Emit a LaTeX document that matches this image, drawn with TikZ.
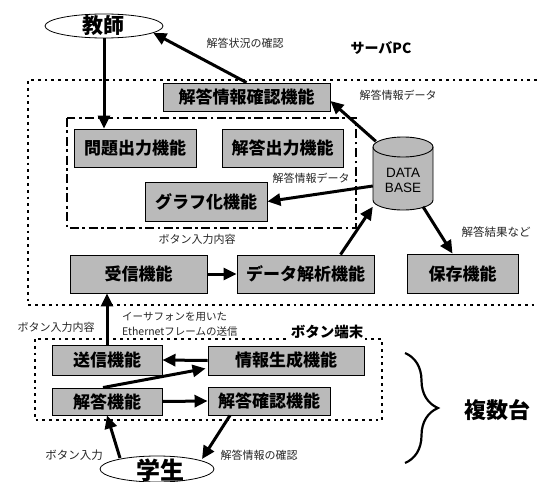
\documentclass[tikz,border=0pt]{standalone}
\usepackage{fontspec}
\setmainfont{Liberation Sans}
\newfontfamily\jp{Noto Sans CJK JP}
\usetikzlibrary{arrows.meta,decorations.pathreplacing,shapes.geometric}
\begin{document}
\begin{tikzpicture}[x=1pt,y=-1pt,
  fbox/.style={draw=black,line width=0.9pt,fill=black!27,inner sep=0pt,
    font=\jp\bfseries\fontsize{17pt}{19pt}\selectfont},
  lbl/.style={font=\jp\fontsize{11pt}{13pt}\selectfont,inner sep=0pt,text=black!85},
  arr/.style={line width=3pt,-{Triangle[length=13pt,width=12pt]}},
  dotline/.style={line width=2.8pt,dash pattern=on 2.8pt off 4pt},
  dashdot/.style={line width=2.8pt,dash pattern=on 9pt off 3.5pt on 2.8pt off 3.5pt},
  oval/.style={draw=black,line width=0.8pt,ellipse,inner sep=0pt}]
\useasboundingbox (0,0) rectangle (537,481);

% server PC frame
\draw[dotline] (537,80) -- (28,80) -- (28,305) -- (537,305);
\draw[dashdot] (67,118) rectangle (356,228);

% teacher
\node[oval,minimum width=118pt,minimum height=24pt] (kyoushi) at (104,26) {};
\node[font=\jp\bfseries\fontsize{21pt}{23pt}\selectfont,inner sep=0pt] (kyoushitxt) at (103,26) {教師};

\node[lbl] (lblkyo) at (245,43) {解答状況の確認};
\node[font=\jp\bfseries\fontsize{14pt}{16pt}\selectfont,inner sep=0pt] (server) at (381,48) {サーバPC};

\node[fbox,minimum width=167pt,minimum height=28pt] (kakunin) at (246.5,97) {解答情報確認機能};
\node[lbl] (lbldata1) at (398,95) {解答情報データ};

\node[fbox,minimum width=122pt,minimum height=38pt] (mondai) at (135,148) {問題出力機能};
\node[fbox,minimum width=121pt,minimum height=38pt] (kshutsu) at (282.5,148) {解答出力機能};
\node[fbox,minimum width=122pt,minimum height=39pt] (graph) at (206,201.5) {グラフ化機能};
\node[lbl] (lbldata2) at (311,178) {解答情報データ};
\node[lbl] (lblbtn1) at (197,239) {ボタン入力内容};

% database
\node[minimum width=60pt,minimum height=73pt,inner sep=0pt] (db) at (403,173) {};
\fill[black!27] (373,147) -- (373,200) arc[start angle=180,end angle=0,x radius=30,y radius=10]
  -- (433,147) arc[start angle=0,end angle=-180,x radius=30,y radius=10] -- cycle;
\draw[line width=0.9pt] (373,147) -- (373,200) arc[start angle=180,end angle=0,x radius=30,y radius=10]
  -- (433,147);
\draw[line width=0.9pt] (403,147) ellipse[x radius=30,y radius=10];
\node[align=center,font=\fontsize{13.5pt}{15pt}\selectfont,inner sep=0pt] (dbtxt) at (403,180) {DATA\\BASE};

\node[fbox,minimum width=137pt,minimum height=38pt] (jushin) at (138.5,274) {受信機能};
\node[fbox,minimum width=137pt,minimum height=38pt] (kaiseki) at (305.5,274) {データ解析機能};
\node[fbox,minimum width=111pt,minimum height=39pt] (hozon) at (462.5,273.5) {保存機能};
\node[lbl,font=\jp\fontsize{11.5pt}{13pt}\selectfont] (lblkekka) at (496,232) {解答結果など};

% button terminal
\draw[dotline] (35,339) rectangle (382,420);
\node[font=\jp\bfseries\fontsize{14.5pt}{16pt}\selectfont,inner sep=1pt,fill=white] (btnterm) at (327,332) {ボタン端末};
\node[lbl] (lblbtn2) at (56,327) {ボタン入力内容};
\node[lbl,font=\jp\fontsize{10.5pt}{15pt}\selectfont,align=left,anchor=west] (lbleth) at (122,324) {イーサフォンを用いた\\Ethernetフレームの送信};

\node[fbox,minimum width=110pt,minimum height=30pt] (soushin) at (107,360) {送信機能};
\node[fbox,minimum width=156pt,minimum height=29pt] (seisei) at (286,360.5) {情報生成機能};
\node[fbox,minimum width=110pt,minimum height=27pt] (kaitou) at (107,401.5) {解答機能};
\node[fbox,minimum width=122pt,minimum height=28pt] (kkakunin) at (269,401) {解答確認機能};

% student
\node[oval,minimum width=114pt,minimum height=26pt] (gakusei) at (157,469) {};
\node[font=\jp\bfseries\fontsize{24pt}{26pt}\selectfont,inner sep=0pt] (gakuseitxt) at (160,470) {学生};
\node[lbl,font=\jp\fontsize{11.5pt}{13pt}\selectfont] (lblbtn3) at (74,455) {ボタン入力};
\node[lbl] (lblkak) at (259,455) {解答情報の確認};

% brace
\coordinate (bt) at (405,353);
\coordinate (bb) at (405,463);
\draw[line width=2.2pt,decorate,decoration={brace,amplitude=33pt}] (bt) -- (bb);
\node[font=\jp\bfseries\fontsize{22pt}{24pt}\selectfont,inner sep=0pt] (fukusu) at (497,410) {複数台};

% arrows
\draw[arr] (kakunin.north) -- (kyoushi.-8);
\draw[arr] (kyoushi.south) -- (kyoushi.south |- mondai.north);
\draw[arr] ([xshift=3pt,yshift=-5pt]db.north west) -- ([yshift=-4pt]kakunin.east);
\draw[arr] ([yshift=-13pt]db.west) -- (graph.east);
\draw[arr] ([xshift=35pt]kaiseki.north) -- ([yshift=3pt]db.south west);
\draw[arr] ([xshift=20pt,yshift=3pt]db.south) -- ([xshift=-10pt]hozon.north);
\draw[arr] (jushin.east) -- (kaiseki.west);
\draw[arr] (soushin.north) -- (soushin.north |- jushin.south);
\draw[arr] (seisei.west) -- (soushin.east);
\draw[arr] ([xshift=-4pt]kaitou.north) -- ([xshift=-2pt,yshift=-8pt]seisei.west);
\draw[arr] (kaitou.east) -- (kkakunin.west);
\draw[arr] ([xshift=-37pt,yshift=11pt]gakusei.center) -- (kaitou.south);
\draw[arr] ([xshift=-39pt]kkakunin.south) -- ([xshift=45pt,yshift=10pt]gakusei.center);
\end{tikzpicture}
\end{document}
